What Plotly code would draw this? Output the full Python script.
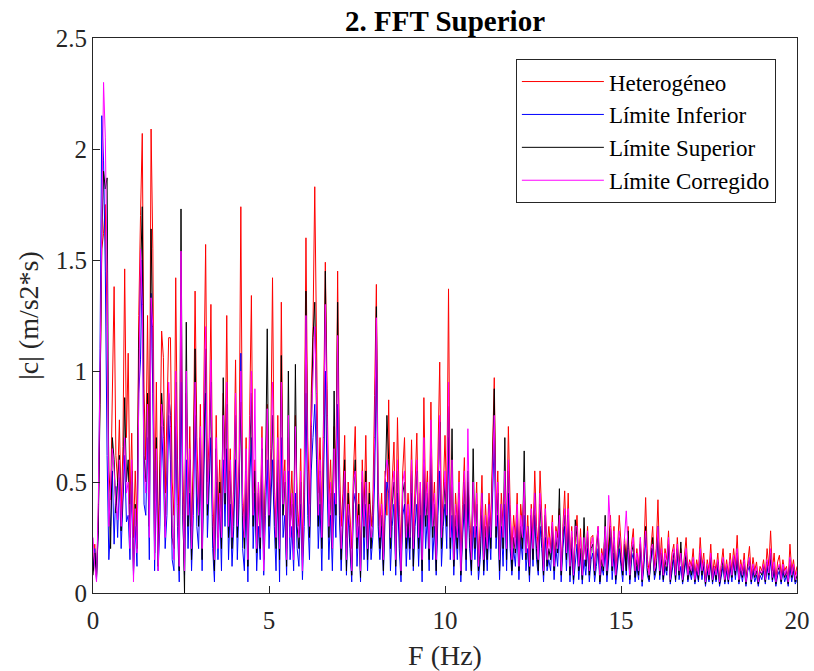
import numpy as np
import plotly.graph_objects as go

# Frequency bins (Hz), 0.05 Hz resolution from 0 to 20
freq = np.round(np.arange(401) * 0.05, 2)

heterogeneo = [
 0.12,0.22,0.08,0.35,0.9,1.55,1.62,1.75,1.2,0.55,0.42,0.95,1.38,0.62,0.5,0.78,0.35,0.66,1.46,0.7,
 1.08,0.4,0.72,0.25,0.55,0.3,1.25,1.7,2.07,0.9,0.6,1.25,0.5,2.09,1.55,0.35,0.95,0.2,0.6,1.18,
 1.06,0.45,0.8,1.15,1.15,0.5,0.35,1.42,0.6,0.3,1.2,0.55,0.25,0.9,0.4,0.75,0.3,0.6,1.36,0.7,
 0.4,0.85,0.3,1.0,1.57,0.5,0.7,1.30,0.45,0.2,0.8,0.35,0.6,0.3,0.9,0.55,1.25,0.4,0.65,0.3,
 0.5,1.05,0.35,0.6,1.74,0.45,0.3,0.7,0.25,0.8,1.34,0.4,0.6,0.25,0.5,0.3,0.75,0.2,0.55,0.85,
 0.4,0.65,1.42,0.5,0.3,0.8,0.25,1.31,0.45,0.6,0.2,0.7,0.35,0.55,0.25,0.8,0.4,0.3,0.65,0.2,
 0.55,1.60,0.7,0.4,0.9,1.2,1.83,1.06,0.45,0.7,0.35,0.8,1.49,0.92,0.4,0.6,0.3,0.75,0.5,1.45,
 0.6,0.3,0.45,0.71,0.25,0.5,0.35,0.2,0.55,0.75,0.3,0.45,0.15,0.6,0.35,0.71,0.25,0.5,0.3,0.4,
 0.89,1.39,0.5,0.3,0.45,0.2,0.55,0.35,0.87,0.3,0.5,0.68,0.25,0.79,0.4,0.2,0.55,0.7,0.3,0.45,
 0.3,0.69,0.25,0.45,0.72,0.3,0.5,0.2,0.88,0.4,0.55,0.25,0.86,0.35,0.5,0.2,0.6,1.04,0.3,0.45,
 0.71,0.4,1.37,0.3,0.5,0.2,0.45,0.3,0.55,0.15,0.4,0.61,0.25,0.5,0.35,0.2,0.45,0.3,0.5,0.15,
 0.3,0.53,0.2,0.4,0.25,0.45,0.3,0.6,0.97,0.35,0.55,0.2,0.45,0.3,0.5,0.25,0.75,0.4,0.2,0.35,
 0.25,0.45,0.15,0.4,0.3,0.5,0.2,0.35,0.15,0.4,0.25,0.55,0.3,0.2,0.55,0.35,0.15,0.4,0.2,0.3,
 0.2,0.35,0.15,0.3,0.25,0.38,0.1,0.3,0.46,0.2,0.45,0.15,0.3,0.1,0.25,0.35,0.15,0.29,0.1,0.25,
 0.15,0.3,0.12,0.25,0.26,0.1,0.22,0.3,0.08,0.2,0.15,0.28,0.1,0.22,0.35,0.15,0.3,0.1,0.2,0.35,
 0.2,0.1,0.25,0.15,0.3,0.08,0.22,0.29,0.1,0.2,0.12,0.25,0.08,0.18,0.43,0.15,0.1,0.22,0.3,0.12,
 0.2,0.42,0.12,0.25,0.1,0.2,0.15,0.28,0.08,0.18,0.22,0.1,0.25,0.12,0.2,0.08,0.18,0.25,0.1,0.15,
 0.12,0.2,0.08,0.15,0.1,0.25,0.12,0.18,0.06,0.15,0.1,0.22,0.08,0.15,0.1,0.18,0.06,0.14,0.2,0.08,
 0.15,0.08,0.18,0.1,0.2,0.12,0.26,0.08,0.15,0.1,0.18,0.06,0.14,0.21,0.08,0.16,0.1,0.14,0.06,0.12,
 0.1,0.15,0.08,0.2,0.12,0.28,0.1,0.18,0.06,0.14,0.17,0.08,0.15,0.1,0.12,0.06,0.22,0.1,0.15,0.08,0.12,
]

limite_inferior = [
 0.10,0.20,0.06,0.30,1.1,2.15,1.95,1.45,0.62,0.15,0.3,0.55,0.22,0.48,0.25,0.52,0.2,0.38,0.62,0.32,
 0.35,0.15,0.5,0.08,0.3,0.12,0.9,1.05,1.5,0.4,0.35,0.7,0.15,1.35,0.9,0.1,0.55,0.1,0.3,0.75,
 0.55,0.2,0.35,0.8,0.6,0.15,0.1,0.75,0.3,0.05,0.95,0.35,0.08,0.6,0.2,0.45,0.1,0.35,0.8,0.3,
 0.2,0.6,0.1,0.55,0.9,0.25,0.45,0.7,0.2,0.05,0.5,0.15,0.4,0.1,0.6,0.3,0.65,0.15,0.4,0.12,
 0.3,0.6,0.15,0.4,1.08,0.2,0.1,0.45,0.05,0.5,0.7,0.2,0.45,0.1,0.3,0.15,0.5,0.08,0.35,0.6,
 0.2,0.4,0.6,0.3,0.1,0.5,0.05,0.7,0.25,0.35,0.08,0.55,0.15,0.3,0.1,0.45,0.2,0.12,0.4,0.06,
 0.3,0.9,0.35,0.15,0.55,0.7,0.85,0.6,0.2,0.4,0.1,0.5,1.0,0.5,0.15,0.35,0.1,0.45,0.25,0.85,
 0.35,0.1,0.3,0.5,0.08,0.35,0.2,0.05,0.4,0.45,0.12,0.3,0.05,0.45,0.15,0.4,0.1,0.35,0.15,0.25,
 0.5,1.05,0.3,0.15,0.3,0.08,0.35,0.5,0.45,0.1,0.3,0.4,0.08,0.45,0.2,0.05,0.35,0.4,0.12,0.3,
 0.15,0.45,0.1,0.3,0.4,0.12,0.35,0.05,0.5,0.2,0.35,0.1,0.5,0.15,0.3,0.08,0.35,0.55,0.12,0.3,
 0.4,0.2,0.7,0.15,0.35,0.08,0.3,0.15,0.35,0.05,0.25,0.4,0.1,0.45,0.2,0.08,0.3,0.15,0.3,0.06,
 0.15,0.35,0.08,0.25,0.1,0.3,0.15,0.4,0.7,0.2,0.35,0.06,0.3,0.12,0.4,0.1,0.45,0.2,0.08,0.2,
 0.12,0.3,0.06,0.25,0.15,0.35,0.1,0.2,0.05,0.3,0.12,0.35,0.15,0.08,0.3,0.2,0.05,0.25,0.1,0.15,
 0.1,0.25,0.06,0.2,0.12,0.3,0.05,0.2,0.3,0.1,0.3,0.05,0.2,0.04,0.15,0.22,0.06,0.18,0.04,0.15,
 0.08,0.2,0.05,0.15,0.18,0.05,0.12,0.2,0.04,0.12,0.08,0.2,0.05,0.15,0.25,0.06,0.18,0.04,0.12,0.2,
 0.12,0.05,0.2,0.08,0.25,0.04,0.15,0.18,0.05,0.12,0.06,0.2,0.03,0.12,0.25,0.08,0.05,0.15,0.2,0.06,
 0.1,0.25,0.06,0.15,0.05,0.12,0.08,0.2,0.04,0.1,0.15,0.05,0.18,0.06,0.12,0.04,0.1,0.15,0.05,0.1,
 0.06,0.12,0.04,0.1,0.05,0.15,0.06,0.12,0.03,0.1,0.05,0.14,0.04,0.1,0.05,0.12,0.03,0.08,0.12,0.04,
 0.1,0.04,0.12,0.05,0.14,0.06,0.15,0.04,0.1,0.05,0.12,0.03,0.1,0.12,0.04,0.1,0.05,0.08,0.03,0.08,
 0.06,0.1,0.04,0.12,0.06,0.15,0.05,0.1,0.03,0.08,0.1,0.04,0.1,0.05,0.08,0.03,0.12,0.05,0.1,0.04,0.06,
]

limite_superior = [
 0.08,0.18,0.07,0.28,0.85,1.6,1.90,1.82,1.87,0.45,0.2,0.7,0.6,0.36,0.5,0.62,0.28,0.45,0.88,0.5,
 0.6,0.25,0.55,0.1,0.4,0.2,1.1,1.4,1.74,0.62,0.5,0.9,0.3,1.64,1.1,0.18,0.7,0.12,0.45,0.9,
 0.75,0.3,0.55,0.9,0.8,0.25,0.2,0.95,0.45,0.1,1.73,0.4,0.0,1.22,0.3,0.6,0.15,0.5,1.10,0.5,
 0.3,0.7,0.15,0.75,1.1,0.35,0.55,0.95,0.3,0.1,0.65,0.25,0.5,0.2,0.97,0.4,0.85,0.25,0.55,0.2,
 0.4,0.8,0.25,0.5,0.86,0.35,0.2,0.55,0.12,0.6,0.9,0.3,0.55,0.18,0.45,0.2,0.65,0.15,0.5,1.19,
 0.3,0.5,0.8,0.4,0.2,0.6,0.15,1.07,0.35,0.5,0.12,1.0,0.3,0.4,0.2,1.03,0.3,0.2,0.5,0.15,
 0.4,1.36,0.5,0.25,0.7,1.15,1.31,0.85,0.3,0.55,0.2,0.6,1.45,0.75,0.25,0.45,0.2,0.91,0.35,1.31,
 0.45,0.15,0.35,0.6,0.1,0.45,0.25,0.08,0.45,0.6,0.2,0.4,0.07,0.5,0.25,0.55,0.15,0.45,0.2,0.35,
 0.65,1.29,0.4,0.2,0.35,0.1,0.45,0.80,0.6,0.2,0.4,0.5,0.12,0.55,0.3,0.08,0.45,0.5,0.2,0.35,
 0.2,0.55,0.12,0.4,0.55,0.2,0.45,0.1,0.6,0.3,0.45,0.15,0.65,0.25,0.4,0.1,0.45,0.77,0.2,0.35,
 0.5,0.3,0.84,0.2,0.74,0.12,0.35,0.2,0.45,0.08,0.3,0.5,0.15,0.55,0.25,0.1,0.65,0.2,0.4,0.1,
 0.2,0.45,0.1,0.3,0.15,0.4,0.2,0.5,0.92,0.25,0.45,0.1,0.4,0.2,0.70,0.15,0.55,0.3,0.1,0.25,
 0.18,0.35,0.1,0.3,0.2,0.64,0.15,0.3,0.08,0.35,0.15,0.45,0.2,0.1,0.4,0.25,0.08,0.35,0.12,0.2,
 0.15,0.3,0.1,0.25,0.18,0.47,0.08,0.25,0.35,0.15,0.35,0.08,0.25,0.06,0.33,0.25,0.1,0.2,0.06,0.34,
 0.12,0.25,0.08,0.2,0.22,0.08,0.18,0.28,0.05,0.15,0.1,0.35,0.08,0.2,0.3,0.1,0.25,0.06,0.15,0.25,
 0.15,0.08,0.22,0.1,0.28,0.06,0.18,0.22,0.07,0.15,0.08,0.22,0.05,0.15,0.3,0.1,0.06,0.18,0.25,0.08,
 0.12,0.3,0.08,0.18,0.06,0.15,0.1,0.22,0.05,0.12,0.18,0.06,0.2,0.08,0.23,0.05,0.12,0.18,0.06,0.12,
 0.08,0.15,0.05,0.12,0.06,0.18,0.08,0.14,0.04,0.12,0.06,0.16,0.05,0.12,0.06,0.14,0.04,0.1,0.15,0.05,
 0.12,0.05,0.14,0.07,0.16,0.08,0.18,0.05,0.12,0.07,0.14,0.04,0.12,0.15,0.05,0.12,0.07,0.1,0.04,0.1,
 0.08,0.12,0.05,0.14,0.08,0.18,0.06,0.12,0.04,0.1,0.12,0.05,0.12,0.07,0.1,0.04,0.15,0.07,0.12,0.05,0.08,
]

limite_corregido = [
 0.25,0.12,0.05,0.4,1.0,1.7,2.3,2.05,1.45,0.3,0.45,0.65,0.55,0.4,0.33,0.6,0.3,0.5,0.7,0.45,
 0.5,0.2,0.6,0.05,0.38,0.18,1.0,1.55,1.3,0.55,0.45,0.85,0.25,1.33,1.2,0.15,0.65,0.1,0.4,0.85,
 0.7,0.25,0.5,0.95,0.75,0.3,0.15,1.0,0.4,0.12,1.54,0.45,0.1,1.0,0.35,0.65,0.2,0.45,0.95,0.55,
 0.35,0.75,0.2,0.85,1.2,0.4,0.6,1.05,0.35,0.15,0.7,0.2,0.45,0.25,0.8,0.45,0.95,0.3,0.6,0.25,
 0.45,0.9,0.3,0.55,1.0,0.4,0.25,0.65,0.15,0.7,1.0,0.35,0.92,0.2,0.5,0.25,0.7,0.1,0.45,0.83,
 0.35,0.55,0.95,0.45,0.25,0.7,0.2,0.95,0.4,0.55,0.15,0.8,0.25,0.45,0.15,0.75,0.35,0.25,0.55,0.1,
 0.45,1.25,0.55,0.3,0.75,1.0,1.2,0.9,0.35,0.6,0.25,0.7,1.3,0.8,0.3,0.5,0.2,0.65,0.4,1.16,
 0.5,0.2,0.4,0.55,0.15,0.4,0.3,0.1,0.5,0.55,0.25,0.35,0.1,0.55,0.3,0.5,0.2,0.4,0.25,0.3,
 0.7,1.24,0.45,0.25,0.4,0.15,0.5,0.6,0.55,0.25,0.45,0.55,0.15,0.6,0.35,0.1,0.5,0.55,0.25,0.4,
 0.25,0.6,0.2,0.45,0.6,0.25,0.5,0.15,0.7,0.35,0.5,0.2,0.78,0.3,0.45,0.15,0.5,0.8,0.25,0.4,
 0.55,0.35,0.95,0.25,0.6,0.15,0.4,0.25,0.5,0.1,0.35,0.55,0.2,0.74,0.3,0.15,0.5,0.25,0.45,0.12,
 0.25,0.45,0.15,0.35,0.2,0.4,0.25,0.55,0.8,0.3,0.5,0.15,0.4,0.25,0.55,0.2,0.6,0.35,0.15,0.3,
 0.2,0.4,0.12,0.35,0.25,0.5,0.18,0.3,0.12,0.38,0.2,0.45,0.25,0.15,0.45,0.3,0.1,0.38,0.15,0.25,
 0.18,0.32,0.12,0.28,0.2,0.35,0.1,0.28,0.38,0.18,0.38,0.12,0.28,0.08,0.3,0.3,0.12,0.25,0.08,0.25,
 0.15,0.28,0.1,0.22,0.25,0.1,0.2,0.3,0.08,0.18,0.12,0.3,0.1,0.44,0.3,0.12,0.28,0.08,0.18,0.28,
 0.18,0.1,0.25,0.37,0.2,0.08,0.2,0.25,0.1,0.18,0.1,0.25,0.06,0.18,0.28,0.12,0.08,0.2,0.22,0.1,
 0.15,0.3,0.1,0.2,0.08,0.18,0.12,0.25,0.06,0.15,0.2,0.08,0.22,0.1,0.18,0.06,0.15,0.2,0.08,0.14,
 0.1,0.16,0.06,0.13,0.08,0.2,0.1,0.15,0.05,0.13,0.08,0.18,0.06,0.12,0.08,0.15,0.05,0.12,0.16,0.06,
 0.13,0.06,0.15,0.08,0.17,0.1,0.2,0.06,0.13,0.08,0.15,0.05,0.12,0.16,0.06,0.13,0.08,0.12,0.05,0.1,
 0.09,0.13,0.06,0.15,0.09,0.2,0.07,0.14,0.05,0.11,0.13,0.06,0.13,0.08,0.11,0.05,0.16,0.08,0.13,0.06,0.1,
]

series = [
    ("Heterogéneo", heterogeneo, "#ff0000"),
    ("Límite Inferior", limite_inferior, "#0000ff"),
    ("Límite Superior", limite_superior, "#000000"),
    ("Límite Corregido", limite_corregido, "#ff00ff"),
]

FONT = "Liberation Serif, Times New Roman, serif"

fig = go.Figure()
for name, vals, col in series:
    fig.add_trace(go.Scatter(x=freq, y=vals, mode="lines", name=name,
                             line=dict(color=col, width=1)))

axis_common = dict(showline=True, mirror=True, linecolor="#262626", linewidth=1,
                   ticks="inside", ticklen=7, tickcolor="#262626", showgrid=False,
                   zeroline=False, automargin=False,
                   tickfont=dict(family=FONT, size=25, color="#262626"))

fig.update_layout(
    width=814, height=671,
    margin=dict(l=93, r=17, t=38, b=78),
    paper_bgcolor="white", plot_bgcolor="white",
    font=dict(family=FONT, color="#262626"),
    title=dict(text="<b>2. FFT Superior</b>", x=0.5, xref="paper", y=1 - 21 / 671,
               yanchor="middle", font=dict(family=FONT, size=29, color="black")),
    xaxis=dict(range=[0, 20], tickvals=[0, 5, 10, 15, 20], ticklabelstandoff=5,
               title=dict(text="F (Hz)", font=dict(family=FONT, size=28, color="#262626"), standoff=12),
               **axis_common),
    yaxis=dict(range=[0, 2.5], tickvals=[0, 0.5, 1, 1.5, 2, 2.5],
               ticktext=["0", "0.5", "1", "1.5", "2", "2.5"],
               title=dict(text="|c| (m/s2*s)", font=dict(family=FONT, size=28, color="#262626"), standoff=8),
               **axis_common),
    legend=dict(x=0.970, y=0.962, xanchor="right", yanchor="top",
                bgcolor="white", bordercolor="#262626", borderwidth=1,
                font=dict(family=FONT, size=23, color="black"),
                tracegroupgap=0, itemwidth=82),
    showlegend=True,
)

fig.write_html("out.html")
